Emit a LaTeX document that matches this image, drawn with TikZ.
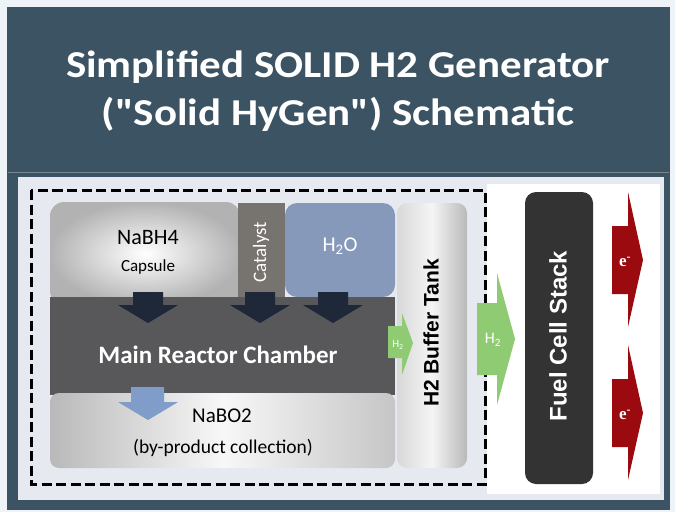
\documentclass[tikz,border=0pt]{standalone}
\usepackage{fontspec}
\setmainfont{Carlito}
\newfontfamily\arialfont{Liberation Sans}
\newfontfamily\timesfont{Liberation Serif}
\definecolor{outerbg}{HTML}{EEF3F7}
\definecolor{slate}{HTML}{3B5362}
\definecolor{panel}{HTML}{E6EAF0}
\definecolor{reactor}{HTML}{58585A}
\definecolor{catal}{HTML}{77736E}
\definecolor{water}{HTML}{8799BA}
\definecolor{navy}{HTML}{1E2838}
\definecolor{fcs}{HTML}{333333}
\definecolor{ered}{HTML}{9A0A0E}
\definecolor{hgreen}{HTML}{8FCB72}
\definecolor{lblue}{HTML}{7F9DC8}
\tikzset{
  box/.style={inner sep=0pt, outer sep=0pt, align=center},
  downarr/.pic={\fill[pic actions] (-15,0) -- (15,0) -- (15,13) -- (30,13) -- (0,31) -- (-30,13) -- (-15,13) -- cycle;},
  bluearr/.pic={\fill[pic actions] (-17,0) -- (16,0) -- (16,15) -- (30,15) -- (0,33) -- (-30,15) -- (-17,15) -- cycle;},
  redarr/.pic={\fill[pic actions] (0,-34) -- (16,-34) -- (16,-68) -- (31,0) -- (16,67) -- (16,34) -- (0,34) -- cycle;},
  biggreen/.pic={\fill[pic actions] (0,-36) -- (20,-36) -- (20,-66) -- (38,0) -- (20,66) -- (20,36) -- (0,36) -- cycle;},
  smallgreen/.pic={\fill[pic actions] (0,-17) -- (14,-17) -- (14,-30) -- (25,0) -- (14,32) -- (14,15) -- (0,15) -- cycle;},
  whitelbl/.style={text=white, inner sep=0pt}
}
\begin{document}
\begin{tikzpicture}[x=1pt,y=-1pt]
\useasboundingbox (0,0) rectangle (675,512);
\fill[outerbg] (0,0) rectangle (675,512);
\fill[slate] (7,7) rectangle (670,510);
\draw[slate!70!white, line width=0.8pt] (8,172.5) -- (669,172.5);
% title
\node[whitelbl, align=center, xscale=1.13, font=\bfseries\fontsize{38}{48}\selectfont] (title) at (338,91)
  {Simplified SOLID H2 Generator\\(\textquotedbl Solid HyGen\textquotedbl) Schematic};
% inner panel
\fill[panel] (18,177) rectangle (664,500);
\fill[white] (487,184) rectangle (660,494);
% components
\node[box, minimum width=190pt, minimum height=103pt, rounded corners=14pt,
  shade, shading=radial, inner color=white, outer color=gray!60] (cap) at (145,253.5) {};
\node[box, minimum width=110pt, minimum height=94pt, rounded corners=12pt, fill=water] (h2o) at (340,250) {};
\node[box, minimum width=47pt, minimum height=94pt, fill=catal] (cat) at (261.5,250) {};
\node[box, minimum width=345pt, minimum height=98pt, fill=reactor] (reac) at (222.5,346) {};
\node[box, minimum width=345pt, minimum height=75pt, rounded corners=9pt,
  shade, left color=gray!55, right color=gray!45, middle color=gray!6] (nabo) at (222.5,430.5) {};
\node[box, minimum width=70pt, minimum height=265pt, rounded corners=10pt,
  shade, left color=gray!30, right color=gray!55, middle color=gray!8] (tank) at (432,335.5) {};
\node[box, minimum width=68pt, minimum height=292pt, rounded corners=11pt, fill=fcs] (fc) at (559,338) {};
% dashed boundary
\draw[black, line width=3pt, dash pattern=on 10pt off 4.5pt] (31,190) rectangle (485,484);
% labels
\node[inner sep=0pt, font=\fontsize{22}{26}\selectfont] (tnabh) at (148,238) {NaBH4};
\node[inner sep=0pt, font=\fontsize{17}{20}\selectfont] (tcaps) at (148,267) {Capsule};
\node[whitelbl, rotate=90, font=\fontsize{19}{21}\selectfont] (tcat) at (261,252) {Catalyst};
\node[whitelbl, font=\fontsize{21}{24}\selectfont] (th2o) at (340,246) {H\textsubscript{2}O};
\node[whitelbl, font=\bfseries\fontsize{25}{28}\selectfont] (treac) at (218,355) {Main Reactor Chamber};
\node[inner sep=0pt, font=\fontsize{21}{24}\selectfont] (tnabo) at (222,416) {NaBO2};
\node[inner sep=0pt, font=\fontsize{19.5}{22}\selectfont] (tby) at (223,448) {(by-product collection)};
\node[inner sep=0pt, rotate=90, font=\arialfont\bfseries\fontsize{21}{24}\selectfont] (ttank) at (431,333) {H2 Buffer Tank};
\node[whitelbl, rotate=90, font=\arialfont\bfseries\fontsize{24}{26}\selectfont] (tfc) at (558,336) {Fuel Cell Stack};
% arrows into reactor
\pic[fill=navy] at (148,292) {downarr};
\pic[fill=navy] at (260,292) {downarr};
\pic[fill=navy] at (333,292) {downarr};
\pic[fill=lblue] at (148,387) {bluearr};
% hydrogen arrows
\pic[fill=hgreen] at (388,343) {smallgreen};
\node[whitelbl, font=\fontsize{11}{12}\selectfont] (th2a) at (398,345) {H\textsubscript{2}};
\pic[fill=hgreen] at (477,339) {biggreen};
\node[whitelbl, font=\fontsize{16}{17}\selectfont] (th2b) at (493,340) {H\textsubscript{2}};
% electron arrows
\pic[fill=ered] at (612,260) {redarr};
\node[whitelbl, font=\timesfont\bfseries\fontsize{17}{18}\selectfont] (te1) at (625,262) {e\textsuperscript{-}};
\pic[fill=ered] at (612,413) {redarr};
\node[whitelbl, font=\timesfont\bfseries\fontsize{17}{18}\selectfont] (te2) at (625,415) {e\textsuperscript{-}};
\end{tikzpicture}
\end{document}
